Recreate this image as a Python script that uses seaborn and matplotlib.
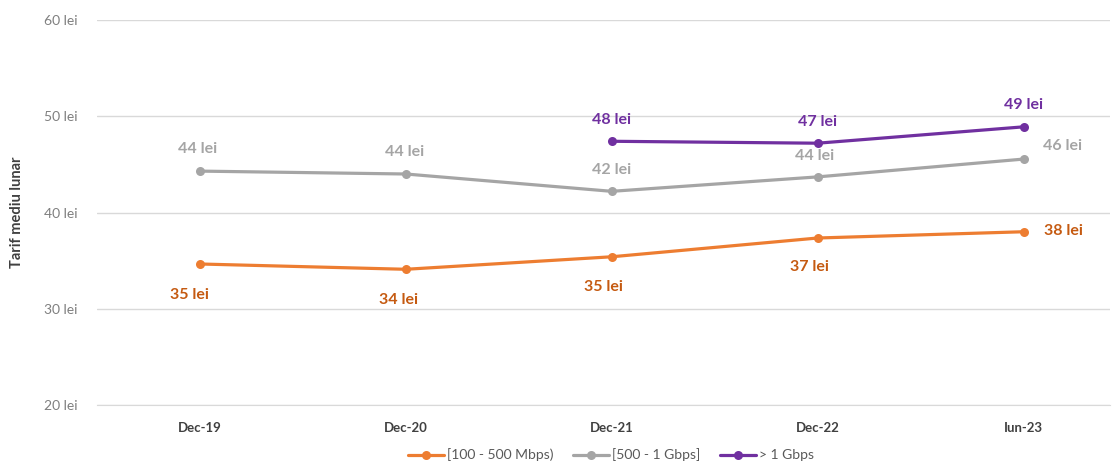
import pandas as pd
import numpy as np
import matplotlib
matplotlib.use("Agg")
import matplotlib.pyplot as plt
from matplotlib.lines import Line2D
import seaborn as sns

# date
perioade = ['Dec-19', 'Dec-20', 'Dec-21', 'Dec-22', 'Iun-23']
serii = ['[100 - 500 Mbps)', '[500 - 1 Gbps]', '> 1 Gbps']
tarif_100_500 = [34.65, 34.1, 35.4, 37.35, 38.0]
tarif_500_1g = [44.3, 44.0, 42.2, 43.7, 45.55]
tarif_peste_1g = [np.nan, np.nan, 47.4, 47.2, 48.9]
etichete_100_500 = ['35 lei', '34 lei', '35 lei', '37 lei', '38 lei']
etichete_500_1g = ['44 lei', '44 lei', '42 lei', '44 lei', '46 lei']
etichete_peste_1g = ['', '', '48 lei', '47 lei', '49 lei']
y_ticks = [20, 30, 40, 50, 60]

culori = ['#ED7D31', '#A5A5A5', '#7030A0']
culori_text = ['#C55A11', '#A5A5A5', '#7030A0']

sns.set_style('white')
plt.rcParams['font.family'] = ['Lato', 'DejaVu Sans']

rows = []
for s, vals in zip(serii, [tarif_100_500, tarif_500_1g, tarif_peste_1g]):
    for i, v in enumerate(vals):
        if not np.isnan(v):
            rows.append({'idx': i, 'perioada': perioade[i], 'serie': s, 'tarif': v})
df = pd.DataFrame(rows)

fig = plt.figure(figsize=(11.12, 4.62), dpi=100)
ax = fig.add_axes([97 / 1112, 1 - 405 / 462, 1013 / 1112, 385 / 462])

sns.lineplot(data=df, x='idx', y='tarif', hue='serie', hue_order=serii,
             palette=culori, marker='o', markersize=6.5, markeredgewidth=0,
             linewidth=2.3, legend=False, ax=ax)

ax.set_xlim(-0.5, 4.42)
ax.set_ylim(20, 60)
ax.set_yticks(y_ticks)
ax.set_yticklabels([f'{t} lei' for t in y_ticks], color='#7F7F7F', fontsize=10)
ax.set_xticks(range(len(perioade)))
ax.set_xticklabels(perioade, fontweight='bold', color='#404040', fontsize=9.5)
ax.set_xticks(np.arange(-0.5, 4.5, 1), minor=True)
ax.tick_params(axis='x', which='major', length=0, pad=12)
ax.tick_params(axis='x', which='minor', length=5, color='#D9D9D9', width=1)
ax.tick_params(axis='y', length=0, pad=14)
ax.grid(axis='y', color='#D9D9D9', linewidth=1)
ax.set_xlabel('')
ax.set_ylabel('Tarif mediu lunar', fontweight='bold', color='#404040', fontsize=10.5, labelpad=14)
for sp in ['top', 'right', 'left']:
    ax.spines[sp].set_visible(False)
ax.spines['bottom'].set_color('#D9D9D9')

# etichete de date (offset in pixeli)
off_100 = [(-10, -31), (-7, -31), (-8, -30), (-8, -29), (40, 1)]
off_500 = [(-2, 22), (-1, 22), (0, 21), (-3, 21), (39, 13)]
off_1g = [(0, 0), (0, 0), (0, 21), (0, 21), (0, 22)]
for vals, labs, offs, col in [
        (tarif_100_500, etichete_100_500, off_100, culori_text[0]),
        (tarif_500_1g, etichete_500_1g, off_500, culori_text[1]),
        (tarif_peste_1g, etichete_peste_1g, off_1g, culori_text[2])]:
    for i, (v, lab, off) in enumerate(zip(vals, labs, offs)):
        if np.isnan(v):
            continue
        ax.annotate(lab, (i, v), xytext=off, textcoords='offset pixels',
                    ha='center', va='center', color=col, fontsize=11.5, fontweight='bold')

handles = [Line2D([0], [0], color=c, linewidth=2.3, marker='o', markersize=6.5,
                  markeredgewidth=0) for c in culori]
fig.legend(handles, serii, loc='center', bbox_to_anchor=(611 / 1112, 1 - 455 / 462),
           ncol=3, frameon=False, fontsize=10, handlelength=2.6, columnspacing=1.4,
           handletextpad=0.2, labelcolor='#595959')

fig.savefig('out.png', dpi=100)
